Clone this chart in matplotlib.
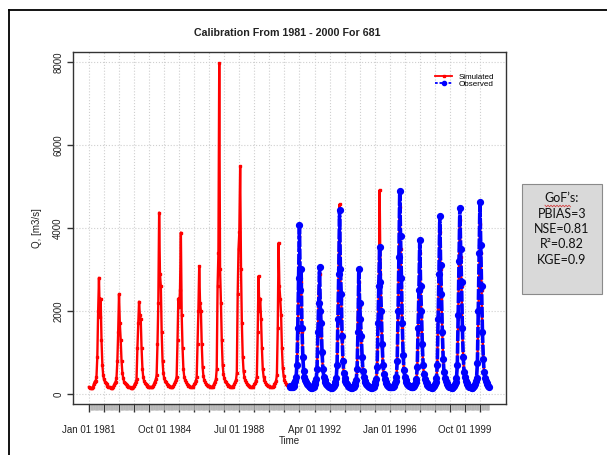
import numpy as np
import pandas as pd
import matplotlib
matplotlib.use('Agg')
import matplotlib.pyplot as plt
from matplotlib.lines import Line2D
from matplotlib.patches import Rectangle

plt.rcParams['font.family'] = ['Liberation Sans', 'DejaVu Sans']

# semi-monthly discharge values (1st and 16th of each month), m3/s
sim_q = [
    170, 150, 140, 140, 150, 180, 250, 300, 320, 400, 900, 2000, 2800, 1850, 2300, 1300, 700, 450, 350, 300, 260, 230, 200, 180,    # 1981
    170, 160, 150, 150, 150, 170, 220, 260, 300, 380, 800, 1500, 2410, 1700, 1300, 800, 500, 380, 300, 260, 230, 210, 190, 180,     # 1982
    180, 160, 150, 150, 150, 160, 200, 250, 280, 350, 1100, 1700, 2225, 1900, 1800, 1100, 600, 400, 320, 270, 240, 210, 190, 180,  # 1983
    180, 170, 160, 160, 170, 200, 250, 300, 350, 450, 1200, 2200, 4370, 2900, 2600, 1500, 800, 500, 380, 320, 280, 250, 220, 200,  # 1984
    200, 180, 170, 170, 170, 190, 230, 280, 330, 420, 1300, 2300, 2100, 2500, 3890, 1900, 1100, 600, 420, 340, 290, 250, 220, 200, # 1985
    190, 170, 160, 160, 170, 190, 230, 270, 320, 400, 1200, 2000, 3080, 2200, 2000, 1200, 650, 430, 340, 290, 250, 220, 200, 190,  # 1986
    200, 180, 170, 170, 180, 200, 250, 300, 350, 600, 2600, 3400, 7970, 3000, 2200, 1300, 700, 480, 380, 320, 280, 250, 220, 200,  # 1987
    200, 180, 170, 170, 180, 200, 240, 290, 340, 500, 2400, 3500, 3900, 5490, 3000, 1700, 900, 550, 400, 330, 280, 250, 220, 200,  # 1988
    190, 170, 160, 160, 170, 190, 230, 270, 320, 420, 1500, 2840, 2000, 2300, 1800, 1100, 600, 420, 340, 290, 250, 220, 200, 190,  # 1989
    190, 170, 160, 160, 170, 190, 230, 270, 320, 450, 1600, 3640, 2600, 2300, 1900, 1100, 620, 430, 340, 290, 250, 220, 200, 180,  # 1990
    190, 170, 160, 160, 170, 190, 250, 300, 380, 650, 1500, 2600, 3800, 2400, 2700, 1500, 850, 520, 390, 320, 270, 230, 200, 180,  # 1991
    170, 160, 150, 150, 160, 180, 220, 270, 330, 560, 1400, 2430, 2900, 1900, 1600, 950, 580, 410, 330, 280, 240, 210, 190, 170,   # 1992
    170, 150, 140, 140, 150, 180, 230, 290, 360, 650, 1700, 3100, 4570, 2800, 2300, 1300, 750, 480, 370, 300, 260, 220, 190, 180,  # 1993
    170, 150, 140, 140, 150, 170, 210, 260, 330, 580, 1860, 2700, 2100, 1700, 1300, 850, 520, 380, 310, 270, 230, 200, 180, 170,   # 1994
    170, 150, 140, 140, 150, 170, 220, 270, 340, 620, 1600, 2500, 4915, 2900, 1900, 1100, 650, 450, 350, 290, 250, 210, 190, 180,  # 1995
    180, 160, 150, 150, 160, 190, 250, 310, 390, 780, 1900, 3200, 4500, 3500, 2600, 1600, 900, 560, 410, 330, 280, 240, 210, 190,  # 1996
    180, 160, 150, 150, 160, 180, 230, 280, 350, 620, 1500, 2500, 3400, 2500, 1900, 1150, 680, 470, 350, 290, 250, 210, 190, 180,  # 1997
    170, 150, 140, 140, 150, 180, 230, 290, 370, 680, 2040, 2800, 3900, 3000, 2300, 1450, 820, 510, 380, 310, 260, 220, 190, 170,  # 1998
    160, 150, 140, 140, 150, 180, 230, 290, 370, 680, 1800, 3150, 4200, 3300, 2600, 1550, 870, 530, 390, 310, 260, 220, 190, 170,  # 1999
    160, 150, 140, 140, 150, 180, 240, 300, 380, 720, 1900, 2580, 4100, 3400, 2500, 1450, 820, 510, 380, 310, 260, 220, 190, 170,  # 2000
]

obs_q = [
    200, 180, 170, 170, 180, 200, 260, 320, 400, 700, 1600, 2800, 4070, 2500, 3000, 1600, 900, 550, 400, 330, 280, 240, 210, 190,  # 1991
    180, 160, 150, 150, 160, 180, 230, 280, 350, 600, 1500, 2200, 3070, 2000, 1700, 1000, 600, 420, 340, 290, 250, 220, 190, 180,  # 1992
    170, 160, 150, 150, 160, 190, 240, 300, 380, 700, 1800, 2900, 4430, 3000, 2400, 1400, 800, 500, 380, 310, 270, 230, 200, 180,  # 1993
    170, 160, 150, 150, 160, 180, 220, 270, 340, 600, 1500, 3000, 2200, 1800, 1400, 900, 550, 400, 320, 280, 240, 210, 190, 170,   # 1994
    170, 160, 150, 150, 160, 180, 230, 280, 350, 650, 1700, 2600, 3550, 2700, 2000, 1200, 700, 480, 360, 300, 260, 220, 200, 180,  # 1995
    180, 170, 160, 160, 170, 200, 260, 320, 400, 800, 2000, 3300, 4880, 3800, 2800, 1700, 950, 580, 420, 340, 290, 250, 220, 200,  # 1996
    190, 170, 160, 160, 170, 190, 240, 290, 360, 650, 1600, 2500, 3710, 2600, 2000, 1200, 700, 480, 360, 300, 260, 220, 200, 180,  # 1997
    180, 160, 150, 150, 160, 190, 240, 300, 380, 700, 1800, 2900, 4290, 3100, 2400, 1500, 850, 520, 390, 320, 270, 230, 200, 180,  # 1998
    170, 160, 150, 150, 160, 190, 240, 300, 380, 700, 1900, 3200, 4470, 3500, 2700, 1600, 900, 540, 400, 320, 270, 230, 200, 180,  # 1999
    170, 160, 150, 150, 160, 190, 250, 310, 390, 750, 2000, 3400, 4620, 3600, 2600, 1500, 850, 520, 390, 320, 270, 230, 200, 180,  # 2000
]

sim_dates = pd.date_range('1981-01-01', '2000-12-31', freq='SMS-16')
obs_dates = pd.date_range('1991-01-01', '2000-12-31', freq='SMS-16')

y_ticks = [0, 2000, 4000, 6000, 8000]
gof_lines = ["GoF\u2019s:", "PBIAS=3", "NSE=0.81", "R\u00b2=0.82", "KGE=0.9"]

W, H = 607, 455
fig = plt.figure(figsize=(W / 100, H / 100), dpi=100)
ax = fig.add_axes([73 / W, 1 - 404 / H, (506 - 73) / W, (404 - 52) / H])

ax.plot(sim_dates, sim_q, color='red', lw=1.7, marker='s', ms=1.6, zorder=3)
ax.plot(obs_dates, obs_q, color='blue', lw=2.6, ls=(0, (3.0, 0.5)), marker='o', ms=4.2, zorder=4)

# x axis: R-style 4% padding around the period
start, end = pd.Timestamp('1981-01-01'), pd.Timestamp('2000-12-31')
pad = (end - start) * 0.04
ax.set_xlim(start - pad, end + pad)
ax.set_ylim(-241, 8241)

major = pd.date_range('1981-01-01', '2000-12-31', freq='9MS')
minor = pd.date_range('1981-01-01', '2000-12-31', freq='MS')
ax.set_xticks(major)
ax.set_xticklabels([d.strftime('%b %d %Y') if i % 5 == 0 else '' for i, d in enumerate(major)])
ax.set_xticks(minor, minor=True)
ax.tick_params(axis='x', which='major', length=6, width=1, color='#333333', pad=9,
               labelsize=7, labelcolor='#222222')
ax.tick_params(axis='x', which='minor', length=4.5, width=1.8, color='#b8b8b8')

ax.set_yticks(y_ticks)
ax.set_yticklabels([str(v) for v in y_ticks], rotation=90, va='center')
ax.tick_params(axis='y', length=4, width=1, color='#333333', pad=3, labelsize=7,
               labelcolor='#222222')

ax.grid(True, which='major', color='#cfcfcf', ls=':', lw=0.8)
ax.set_axisbelow(True)
for s in ax.spines.values():
    s.set_color('#333333')
    s.set_linewidth(1)

fig.text(287 / W, 1 - 33 / H, 'Calibration From 1981 - 2000 For 681', ha='center', va='center',
         fontsize=7.7, fontweight='bold', color='#222222')
fig.text(289.5 / W, 1 - 441 / H, 'Time', ha='center', va='center', fontsize=7, color='#222222')
fig.text(37 / W, 1 - 228 / H, 'Q, [m3/s]', ha='center', va='center', rotation=90,
         fontsize=7, color='#222222')

handles = [Line2D([], [], color='red', lw=1.3, marker='s', ms=2),
           Line2D([], [], color='blue', lw=1.3, ls=(0, (1.5, 1)), marker='o', ms=3)]
ax.legend(handles, ['Simulated', 'Observed'], loc='upper right', bbox_to_anchor=(0.99, 0.96),
          frameon=False, fontsize=5.8, handlelength=2.2, labelspacing=-0.1, handletextpad=0.8)

# outer slide border
fig.add_artist(Line2D([9 / W, 9 / W], [0, 1 - 9.5 / H], color='black', lw=1.3))
fig.add_artist(Line2D([9 / W, 1], [1 - 9.5 / H, 1 - 9.5 / H], color='black', lw=1.3))

# GoF box
fig.add_artist(Rectangle((522 / W, 1 - 294 / H), 80 / W, 110 / H, facecolor='#d9d9d9',
                         edgecolor='#8a8a8a', lw=0.8))
for i, t in enumerate(gof_lines):
    fig.text(562 / W, 1 - (198 + 15.5 * i) / H, t, ha='center', va='center', fontsize=9,
             family=['Lato', 'DejaVu Sans'], color='#111111')
sx = np.arange(545, 572, 1.5)
sy = 206 + np.where(np.arange(len(sx)) % 2 == 0, -0.8, 0.8)
fig.add_artist(Line2D(sx / W, 1 - sy / H, color='#d04040', lw=0.6))

fig.savefig('out.png', dpi=100)
